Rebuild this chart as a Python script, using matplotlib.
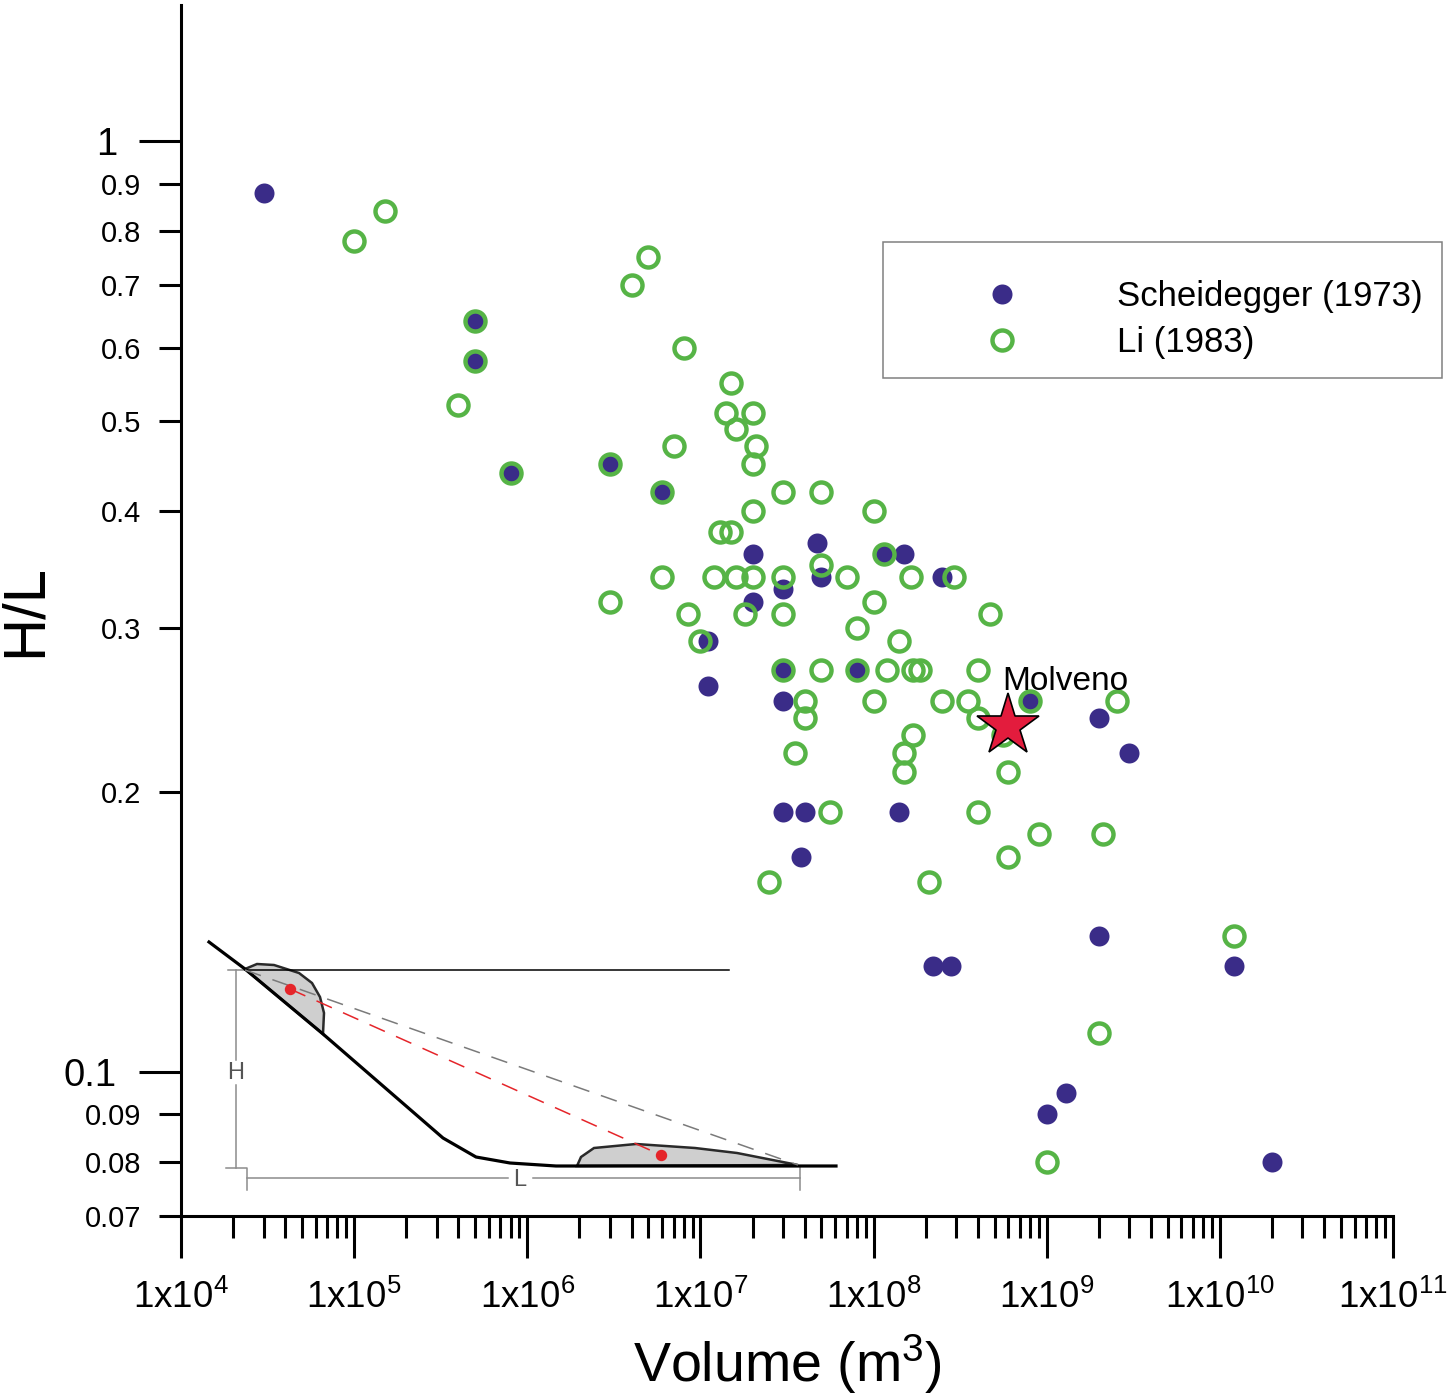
import numpy as np
import matplotlib.pyplot as plt
from matplotlib.lines import Line2D
from matplotlib.patches import Polygon, Rectangle

plt.rcParams['font.family'] = ['Liberation Sans', 'DejaVu Sans']
plt.rcParams['mathtext.fontset'] = 'custom'
plt.rcParams['mathtext.rm'] = 'Liberation Sans'
plt.rcParams['mathtext.it'] = 'Liberation Sans:italic'
plt.rcParams['mathtext.bf'] = 'Liberation Sans:bold'

# Scheidegger (1973) - volume (m3) and H/L
scheid_vol = [3e4, 5e5, 5e5, 8e5, 3e6, 6e6, 2e7, 2e7, 3e7, 4.7e7, 5e7, 1.15e8, 1.5e8,
              2.5e8, 1.1e7, 1.1e7, 3e7, 3e7, 8e7, 3e7, 4e7, 3.8e7, 1.4e8, 8e8, 2e9,
              3e9, 2.2e8, 2.8e8, 2e9, 1.2e10, 1e9, 1.3e9, 2e10]
scheid_hl = [0.88, 0.64, 0.58, 0.44, 0.45, 0.42, 0.36, 0.32, 0.33, 0.37, 0.34, 0.36, 0.36,
             0.34, 0.29, 0.26, 0.27, 0.25, 0.27, 0.19, 0.19, 0.17, 0.19, 0.25, 0.24,
             0.22, 0.13, 0.13, 0.14, 0.13, 0.09, 0.095, 0.08]

# Li (1983)
li_vol = [1.5e5, 1e5, 5e6, 4e6, 5e5, 5e5, 4e5, 8e5, 3e6, 6e6, 8e6, 1.5e7, 1.4e7, 2e7,
          1.6e7, 2.1e7, 2e7, 7e6, 2e7, 3e7, 5e7, 1e8, 1.3e7, 1.5e7, 6e6, 1.2e7, 1.6e7,
          2e7, 3e7, 5e7, 7e7, 1.65e8, 2.9e8, 3e6, 8.5e6, 1.8e7, 3e7, 1e8, 4.7e8, 1e7,
          8e7, 1.4e8, 3e7, 5e7, 8e7, 1.2e8, 1.7e8, 1.85e8, 4e8, 4e7, 1e8, 2.5e8, 3.5e8,
          8e8, 2.55e9, 4e7, 4e8, 5.6e8, 1.7e8, 3.5e7, 1.5e8, 1.5e8, 6e8, 5.6e7, 4e8,
          9e8, 2.1e9, 6e8, 2.5e7, 2.1e8, 1.2e10, 2e9, 1e9, 1.15e8]
li_hl = [0.84, 0.78, 0.75, 0.70, 0.64, 0.58, 0.52, 0.44, 0.45, 0.42, 0.60, 0.55, 0.51, 0.51,
         0.49, 0.47, 0.45, 0.47, 0.40, 0.42, 0.42, 0.40, 0.38, 0.38, 0.34, 0.34, 0.34,
         0.34, 0.34, 0.35, 0.34, 0.34, 0.34, 0.32, 0.31, 0.31, 0.31, 0.32, 0.31, 0.29,
         0.30, 0.29, 0.27, 0.27, 0.27, 0.27, 0.27, 0.27, 0.27, 0.25, 0.25, 0.25, 0.25,
         0.25, 0.25, 0.24, 0.24, 0.23, 0.23, 0.22, 0.22, 0.21, 0.21, 0.19, 0.19,
         0.18, 0.18, 0.17, 0.16, 0.16, 0.14, 0.11, 0.08, 0.36]

# Molveno
molveno_vol = [6e8]
molveno_hl = [0.235]

x_decades = [1e4, 1e5, 1e6, 1e7, 1e8, 1e9, 1e10, 1e11]
x_labels = [r'$\mathregular{1x10^{%d}}$' % e for e in range(4, 12)]
y_major = [0.1, 1]
y_major_labels = ['0.1', '1']
y_minor = [0.07, 0.08, 0.09, 0.2, 0.3, 0.4, 0.5, 0.6, 0.7, 0.8, 0.9]
y_minor_labels = ['0.07', '0.08', '0.09', '0.2', '0.3', '0.4', '0.5', '0.6', '0.7', '0.8', '0.9']

purple = '#3a2c88'
green = '#56b446'

fig = plt.figure(figsize=(14.5, 13.93), dpi=100)
ax = fig.add_axes([181/1450, 1-1216/1393, 1212/1450, 1211/1393])

ax.plot(scheid_vol, scheid_hl, 'o', ms=14.4, mfc=purple, mec='none', zorder=3)
ax.plot(li_vol, li_hl, 'o', ms=14.4, mfc='none', mec=green, mew=3.2, zorder=4)
ax.plot(molveno_vol, molveno_hl, '*', ms=47, mfc='#e31c3d', mec='black', mew=1.2, zorder=5)
ax.annotate('Molveno', xy=(molveno_vol[0], molveno_hl[0]), xytext=(-4, 32),
            textcoords='offset points', ha='left', va='center', fontsize=24, zorder=6)

ax.set_xscale('log')
ax.set_yscale('log')
ax.set_xlim(1e4, 1e11)
ax.set_ylim(0.07, 1.4)

ax.set_xticks(x_decades, labels=x_labels)
x_minor = [m * 10.0**e for e in range(4, 11) for m in range(2, 10)]
ax.set_xticks(x_minor, minor=True)
ax.set_yticks(y_major, labels=y_major_labels)
ax.set_yticks(y_minor, labels=y_minor_labels, minor=True)

ax.tick_params(axis='x', which='major', length=30, width=2.2, labelsize=26.5, pad=16)
ax.tick_params(axis='x', which='minor', length=16, width=2.2, labelbottom=False)
ax.tick_params(axis='y', which='major', length=30, width=2.2, labelsize=27.5, pad=16)
ax.tick_params(axis='y', which='minor', length=15.5, width=2.2, labelsize=21, pad=13)

for s in ['top', 'right']:
    ax.spines[s].set_visible(False)
for s in ['left', 'bottom']:
    ax.spines[s].set_linewidth(2.2)

ax.set_ylabel('H/L', fontsize=43, va='center')
ax.yaxis.set_label_coords(-0.1287, 0.5)
ax.set_xlabel(r'Volume (m$^{\mathregular{3}}$)', fontsize=40, va='top')
ax.xaxis.set_label_coords(0.5, -0.0958)

handles = [Line2D([], [], ls='none', marker='o', ms=14.4, mfc=purple, mec='none'),
           Line2D([], [], ls='none', marker='o', ms=14.4, mfc='none', mec=green, mew=3.2)]
ax.legend(handles, ['Scheidegger (1973)', 'Li (1983)'], loc='upper left',
          bbox_to_anchor=(950/1450, 1-263/1393), bbox_transform=fig.transFigure,
          frameon=False, borderpad=0, handlelength=2, handletextpad=2.32,
          labelspacing=0.37, fontsize=25)

# overlay in pixel coordinates for legend frame and the H/L sketch
ov = fig.add_axes([0, 0, 1, 1])
ov.set_xlim(0, 1450)
ov.set_ylim(1393, 0)
ov.axis('off')
ov.patch.set_visible(False)

ov.add_patch(Rectangle((883, 242), 559, 136, fill=False, ec='#808080', lw=1.1))

slope_x = [209, 245, 323, 443, 476, 510, 556, 836]
slope_y = [942, 969, 1034, 1138, 1157, 1163, 1166, 1166]
top_blob = [(245, 969), (257, 964), (274, 965), (299, 973), (312, 983), (320, 997),
            (324, 1013), (323, 1034)]
low_blob = [(577, 1166), (581, 1157), (594, 1148), (636, 1144), (695, 1148),
            (737, 1153), (798, 1165)]

ov.add_patch(Polygon(top_blob, closed=True, fc='#cfcfcf', ec='#2a2a2a', lw=1.8, zorder=2))
ov.add_patch(Polygon(low_blob, closed=True, fc='#cfcfcf', ec='#2a2a2a', lw=1.8, zorder=2))
ov.plot(slope_x, slope_y, color='black', lw=2.3, zorder=3)
ov.plot([245, 729], [970, 970], color='black', lw=1.1, zorder=3)
ov.plot([245, 798], [970, 1165], color='#7a7a7a', lw=1.1, dashes=(11, 8), zorder=3)
ov.plot([290, 661], [989, 1155], color='#e5252a', lw=1.1, dashes=(11, 8), zorder=3)
ov.plot([290, 661], [989, 1155], 'o', ms=7.2, color='#e5252a', zorder=4)

dim = '#8c8c8c'
ov.plot([228, 245], [970, 970], color=dim, lw=1.1)
ov.plot([236, 236], [970, 1060], color=dim, lw=1.1)
ov.plot([236, 236], [1085, 1168], color=dim, lw=1.1)
ov.plot([226, 247, 247], [1168, 1168, 1190], color=dim, lw=1.1)
ov.plot([247, 508], [1178, 1178], color=dim, lw=1.1)
ov.plot([533, 800], [1178, 1178], color=dim, lw=1.1)
ov.plot([800, 800], [1166, 1190], color=dim, lw=1.1)
ov.text(236, 1073, 'H', ha='center', va='center', fontsize=17, color='#555555')
ov.text(520, 1180, 'L', ha='center', va='center', fontsize=17, color='#555555')

fig.savefig('out.png', dpi=100)
